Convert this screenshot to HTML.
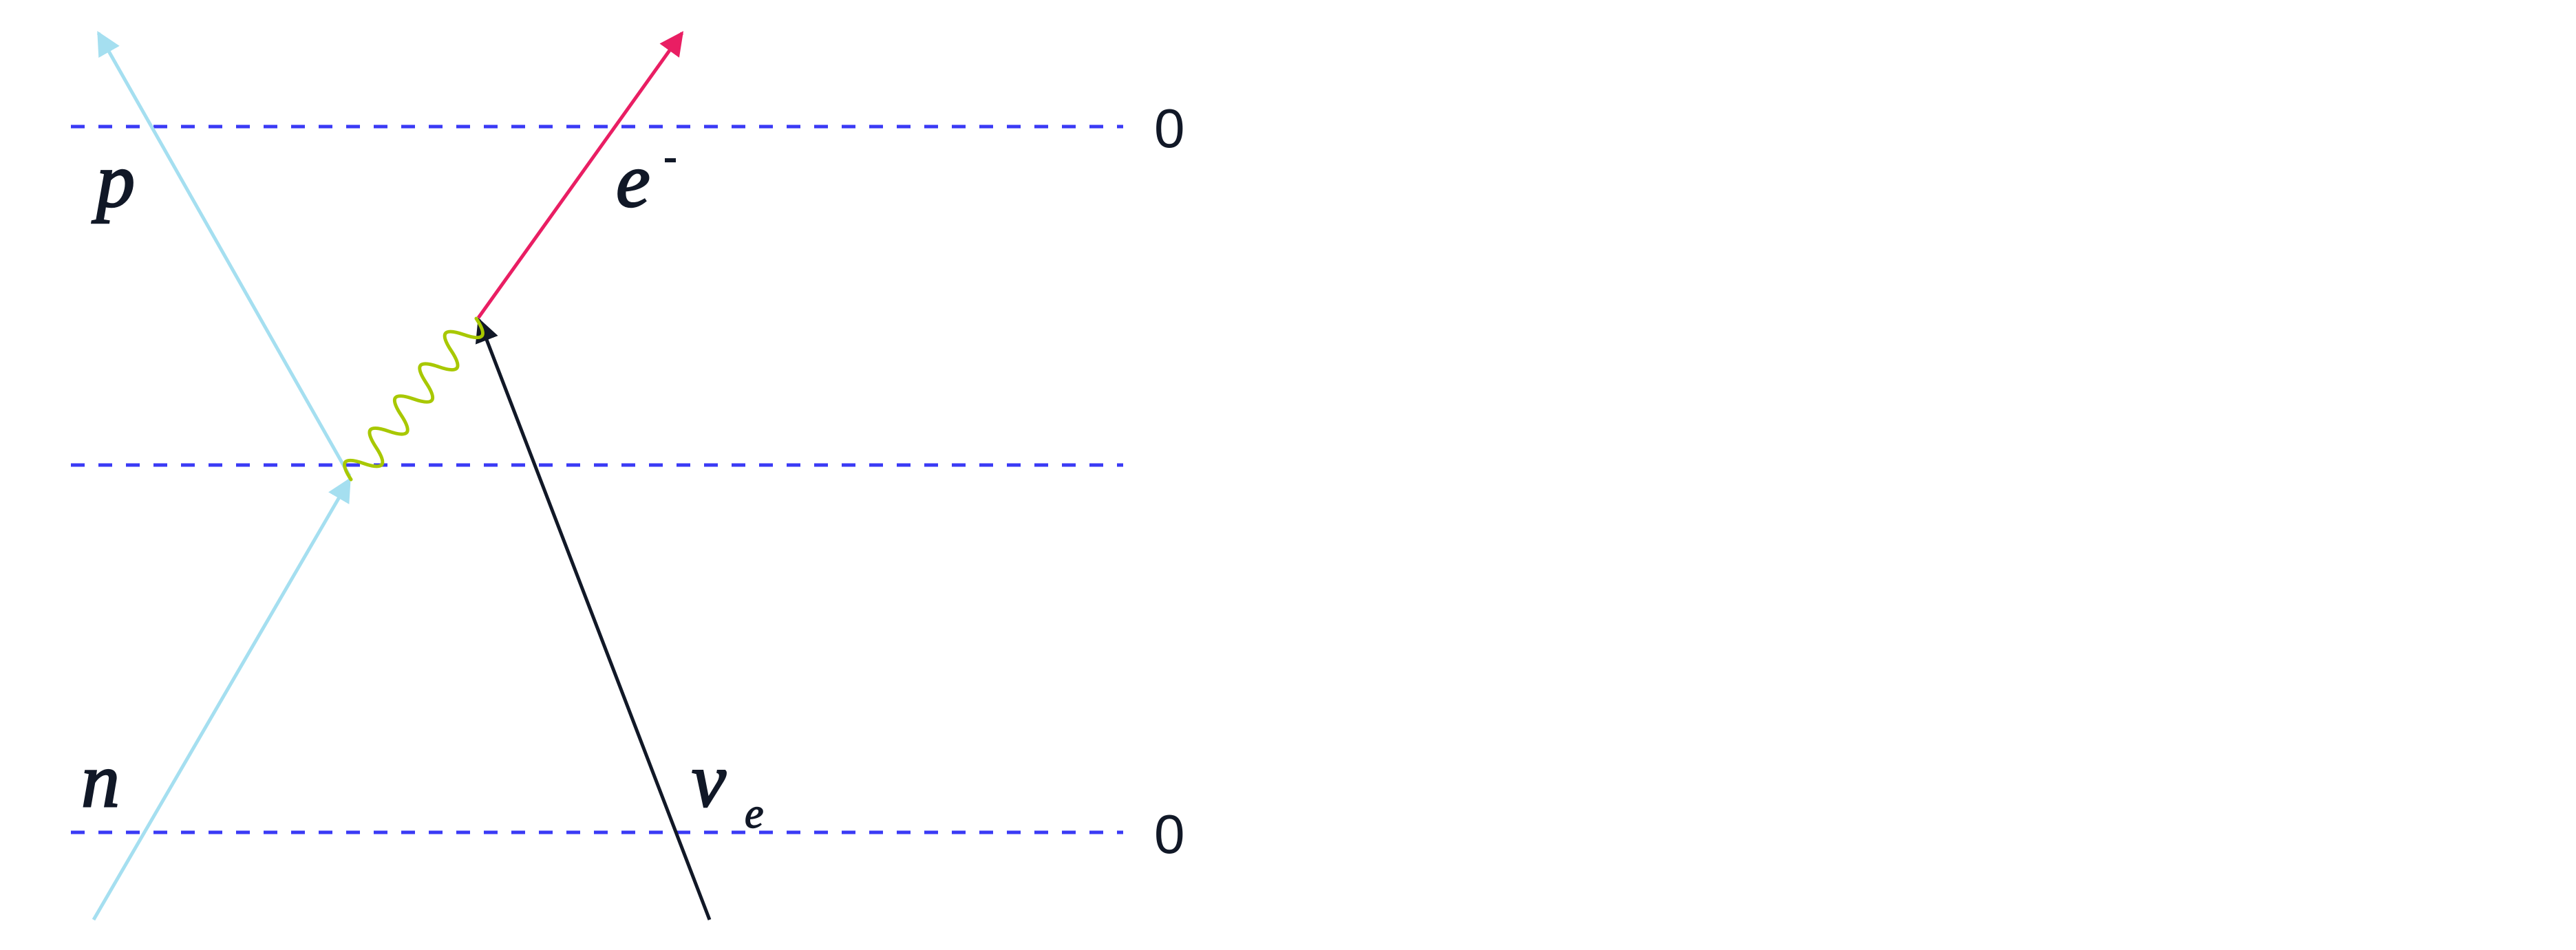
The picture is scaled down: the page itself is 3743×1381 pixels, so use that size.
<!DOCTYPE html>
<html><head><meta charset="utf-8"><style>
html,body{margin:0;padding:0;background:#fff;}
svg{display:block;}
</style></head><body>
<svg width="3743" height="1381" viewBox="0 0 3743 1381" xmlns="http://www.w3.org/2000/svg">
<defs>
<marker id="ab" viewBox="0 0 10 10" refX="9" refY="5" markerWidth="7" markerHeight="7" orient="auto" markerUnits="strokeWidth"><path d="M0,0 L10,5 L0,10 z" fill="#a5dff0"/></marker>
<marker id="ar" viewBox="0 0 10 10" refX="9" refY="5" markerWidth="7" markerHeight="7" orient="auto" markerUnits="strokeWidth"><path d="M0,0 L10,5 L0,10 z" fill="#e91e63"/></marker>
<marker id="ak" viewBox="0 0 10 10" refX="9" refY="5" markerWidth="7" markerHeight="7" orient="auto" markerUnits="strokeWidth"><path d="M0,0 L10,5 L0,10 z" fill="#111827"/></marker>
</defs>
<g stroke="#3a3af5" stroke-width="5" stroke-dasharray="20 20">
<line x1="103" y1="184" x2="1632" y2="184"/>
<line x1="103" y1="676" x2="1632" y2="676"/>
<line x1="103" y1="1210" x2="1632" y2="1210"/>
</g>
<g fill="none" stroke-width="5">
<line x1="136" y1="1337" x2="508" y2="697" stroke="#a5dff0" marker-end="url(#ab)"/>
<line x1="508" y1="692" x2="143" y2="48" stroke="#a5dff0" marker-end="url(#ab)"/>
<line x1="695" y1="462" x2="991" y2="48" stroke="#e91e63" marker-end="url(#ar)"/>
<line x1="1031" y1="1337" x2="696" y2="465" stroke="#111827" marker-end="url(#ak)"/>
<path d="M510,697 Q484.3,658.2 528.2,673.6 T546.4,650.2 T564.6,626.8 T582.8,603.4 T601,580 T619.2,556.6 T637.4,533.2 T655.6,509.8 T673.8,486.4 T692,463" stroke="#a8c800" stroke-linecap="round"/>
</g>
<g font-family="'Liberation Serif', serif" font-style="italic" fill="#111827" stroke="#111827" stroke-width="2.5" font-size="112">
<text x="140" y="300">p</text>
<text x="118" y="1172">n</text>
<text x="895" y="300">e</text>
<text x="1005" y="1172">ν</text>
<text x="1082" y="1203" font-size="62" stroke-width="1.5">e</text>
</g>
<rect x="966" y="230" width="16" height="6" fill="#111827"/>
<g font-family="'Liberation Sans', sans-serif" fill="#111827" font-size="80">
<text x="1677" y="214">0</text>
<text x="1677" y="1240">0</text>
</g>
</svg>
</body></html>
